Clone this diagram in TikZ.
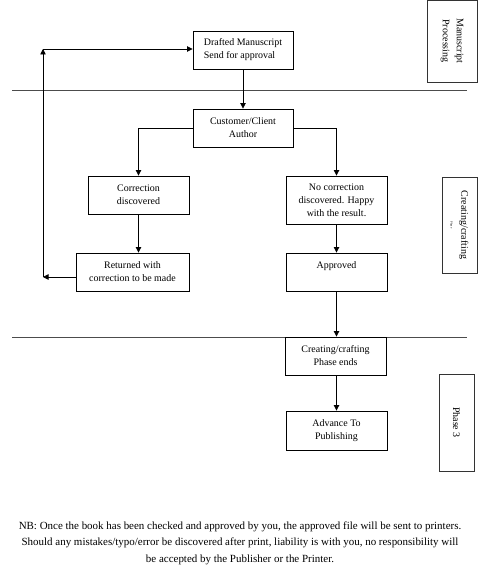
\documentclass[tikz,border=0pt]{standalone}
\usepackage{fontspec}
\setmainfont{Liberation Serif}
\usetikzlibrary{arrows.meta}
\begin{document}
\begin{tikzpicture}[x=1bp,y=-1bp,
  box/.style={draw=black,line width=0.9bp,inner sep=0pt,align=center,font=\fontsize{10}{13}\selectfont},
  sidebox/.style={draw=black!80,line width=0.9bp,inner sep=0pt,align=center,font=\fontsize{10}{13}\selectfont},
  conn/.style={line width=0.8bp,-{Triangle[length=5.5bp,width=5.5bp]}},
  sep/.style={draw=black!70,line width=0.6bp}]
\useasboundingbox (0,0) rectangle (484,568);
% separators
\draw[sep] (12,90) -- (467,90);
\draw[sep] (12,337) -- (467,337);
% main boxes
\node[box,minimum width=100bp,minimum height=38bp,align=left] (draft) at (243,50) {Drafted Manuscript\\Send for approval};
\node[box,minimum width=100bp,minimum height=38bp] (cust) at (243,128) {Customer/Client\\Author};
\node[box,minimum width=101bp,minimum height=38bp] (corr) at (138.5,195) {Correction\\discovered};
\node[box,minimum width=101bp,minimum height=48bp] (nocorr) at (336.5,200) {No correction\\discovered. Happy\\with the result.};
\node[box,minimum width=113bp,minimum height=38bp] (ret) at (132.5,272) {Returned with\\correction to be made};
\node[box,minimum width=101bp,minimum height=38bp] (appr) at (336.5,272) {Approved\\\mbox{}};
\node[box,minimum width=101bp,minimum height=38bp] (ends) at (335.5,356) {Creating/crafting\\Phase ends};
\node[box,minimum width=101bp,minimum height=39bp] (adv) at (336.5,430.5) {Advance To\\Publishing};
% side boxes
\node[sidebox,minimum width=50bp,minimum height=82bp] (sb1) at (452,41) {};
\node[rotate=-90,align=center,font=\fontsize{10}{14}\selectfont] (sb1t) at (sb1.center) {Manuscript\\Processing};
\node[sidebox,minimum width=35bp,minimum height=96bp] (sb2) at (459.5,225) {};
\node[rotate=-90,align=center,font=\fontsize{10}{11}\selectfont] (sb2t) at (sb2.center) {Creating/crafting\\{\fontsize{3}{3}\selectfont Phase}};
\node[sidebox,minimum width=35bp,minimum height=97bp] (sb3) at (456.5,422.5) {};
\node[rotate=-90,font=\fontsize{10}{13}\selectfont] (sb3t) at (sb3.center) {Phase 3};
% loop coordinates
\coordinate (lb) at (43,277);
\coordinate (lt) at (43,49);
% connectors
\draw[conn] (draft.south) -- (cust.north);
\draw[conn] (cust.west) -| (corr.north);
\draw[conn] (cust.east) -| (nocorr.north);
\draw[conn] (corr.south) -- (ret.north -| corr.south);
\draw[conn] (nocorr.south) -- (appr.north);
\draw[conn] (appr.south) -- (ends.north -| appr.south);
\draw[conn] (ends.south -| adv.north) -- (adv.north);
\draw[conn] (ret.west |- lb) -- (lb);
\draw[conn] (lb) -- (lt);
\draw[conn] (lt) -- (lt -| draft.west);
% note
\node[align=center,font=\fontsize{11}{16.5}\selectfont] (note) at (240,543) {NB: Once the book has been checked and approved by you, the approved file will be sent to printers.\\Should any mistakes/typo/error be discovered after print, liability is with you, no responsibility will\\be accepted by the Publisher or the Printer.};
\end{tikzpicture}
\end{document}
